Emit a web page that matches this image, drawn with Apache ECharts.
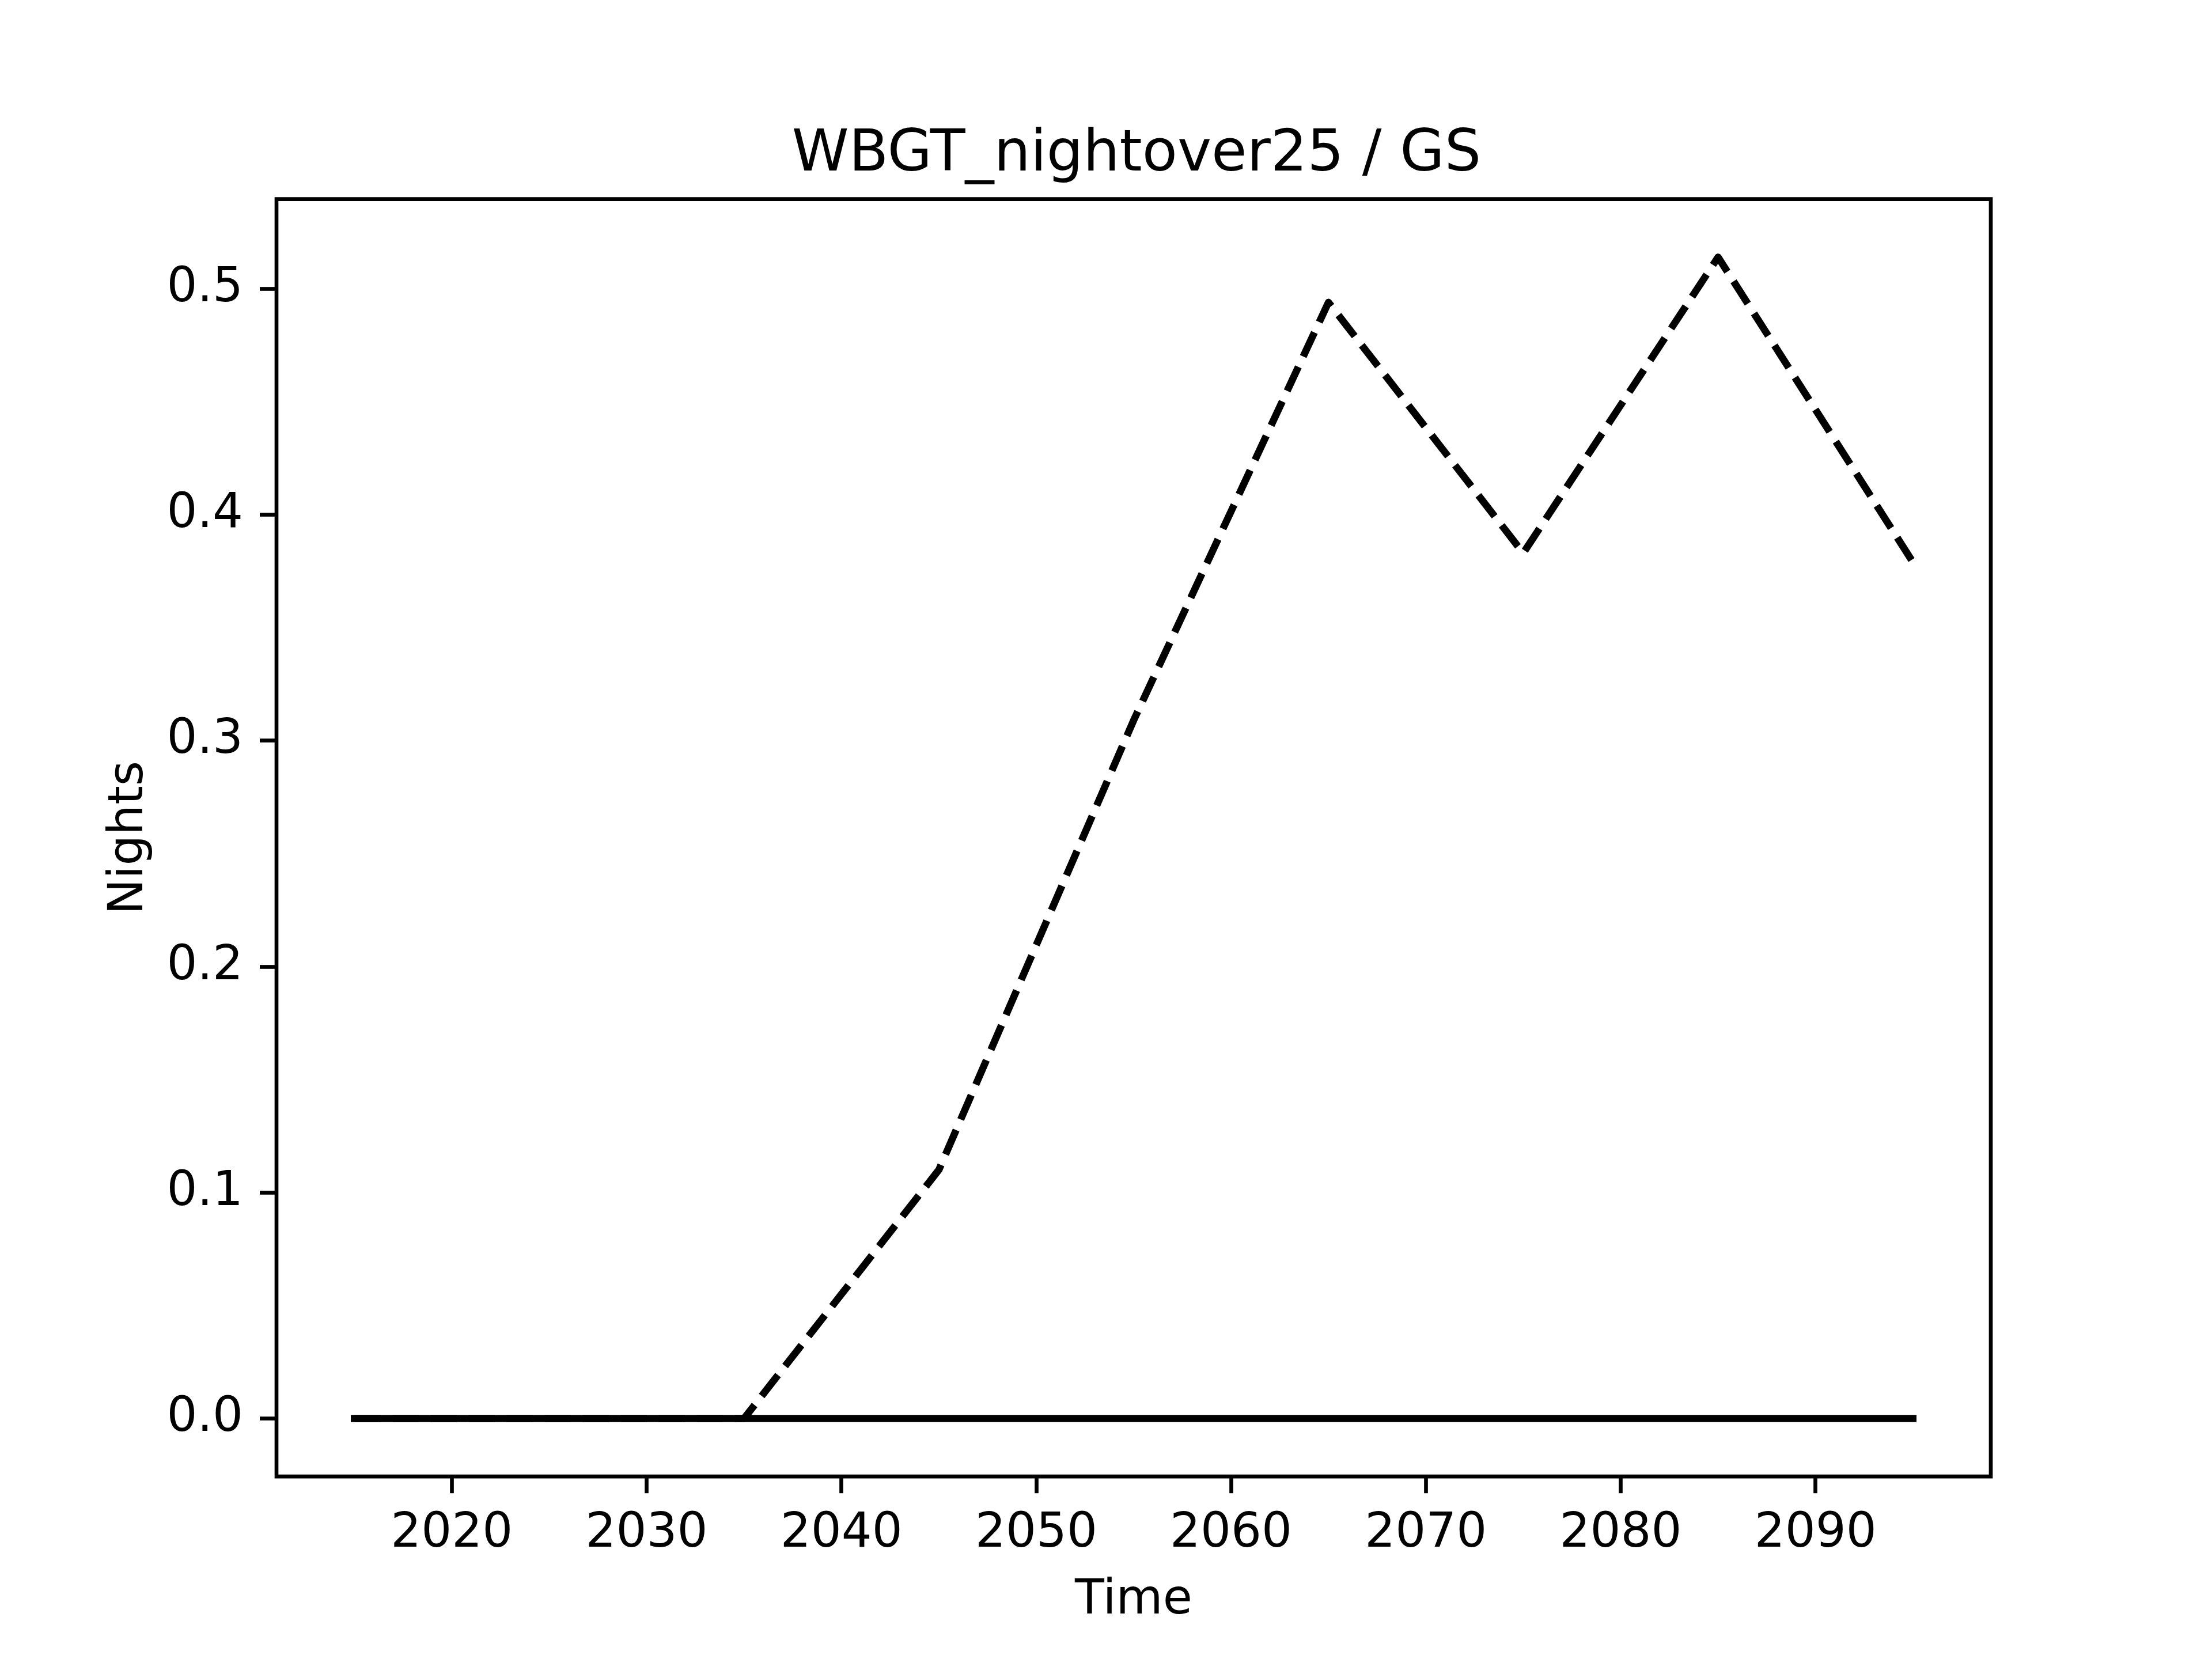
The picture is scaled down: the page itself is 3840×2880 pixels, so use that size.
<!DOCTYPE html>
<html>
<head>
<meta charset="utf-8">
<script src="https://cdn.jsdelivr.net/npm/echarts@6/dist/echarts.min.js"></script>
<style>
html,body{margin:0;padding:0;background:#fff;}
#chart{width:3840px;height:2880px;}
</style>
</head>
<body>
<div id="chart"></div>
<script>
const years = [2015, 2025, 2035, 2045, 2055, 2065, 2075, 2085, 2095];
const solidValues = [0, 0, 0, 0, 0, 0, 0, 0, 0];
const dashedValues = [0, 0, 0, 0.11, 0.309, 0.494, 0.383, 0.514, 0.379];
const xTicks = [2020, 2030, 2040, 2050, 2060, 2070, 2080, 2090];
const yTicks = [0, 0.1, 0.2, 0.3, 0.4, 0.5];
const titleText = 'WBGT_nightover25 / GS';
const xName = 'Time';
const yName = 'Nights';

const FONT = 'DejaVu Sans';
const chart = echarts.init(document.getElementById('chart'), null, {renderer: 'canvas'});
const pair = (xs, ys) => xs.map((x, i) => [x, ys[i]]);

chart.setOption({
  animation: false,
  backgroundColor: '#ffffff',
  title: {
    text: titleText,
    left: 1968,
    top: 215,
    textAlign: 'center',
    textStyle: {fontFamily: FONT, fontSize: 100, fontWeight: 'normal', color: '#000'}
  },
  grid: {
    left: 480, right: 384, top: 345.6, bottom: 316.8,
    show: true, borderColor: '#000', borderWidth: 6.67, backgroundColor: 'transparent'
  },
  xAxis: {
    type: 'value', min: 2011, max: 2099,
    name: xName, nameLocation: 'middle', nameGap: 175,
    nameTextStyle: {fontFamily: FONT, fontSize: 83.3, color: '#000'},
    axisLine: {show: false, onZero: false},
    splitLine: {show: false},
    axisTick: {show: true, length: 29, inside: false, customValues: xTicks,
      lineStyle: {color: '#000', width: 6.67}},
    axisLabel: {customValues: xTicks, margin: 59, fontFamily: FONT, fontSize: 83.3, color: '#000',
      formatter: v => String(v)}
  },
  yAxis: {
    type: 'value', min: -0.0257, max: 0.5397,
    name: yName, nameLocation: 'middle', nameGap: 213, nameRotate: 90,
    nameTextStyle: {fontFamily: FONT, fontSize: 83.3, color: '#000'},
    axisLine: {show: false, onZero: false},
    splitLine: {show: false},
    axisTick: {show: true, length: 29, inside: false, customValues: yTicks,
      lineStyle: {color: '#000', width: 6.67}},
    axisLabel: {customValues: yTicks, margin: 58, fontFamily: FONT, fontSize: 83.3, color: '#000',
      formatter: v => v.toFixed(1)}
  },
  series: [
    {
      type: 'line', data: pair(years, dashedValues), symbol: 'none', z: 2,
      lineStyle: {color: '#000', width: 12.5, type: [46, 20], cap: 'butt', join: 'round'}
    },
    {
      type: 'line', data: pair(years, solidValues), symbol: 'none', z: 3,
      lineStyle: {color: '#000', width: 12.5, type: 'solid', cap: 'square', join: 'round'}
    }
  ]
});
</script>
</body>
</html>
